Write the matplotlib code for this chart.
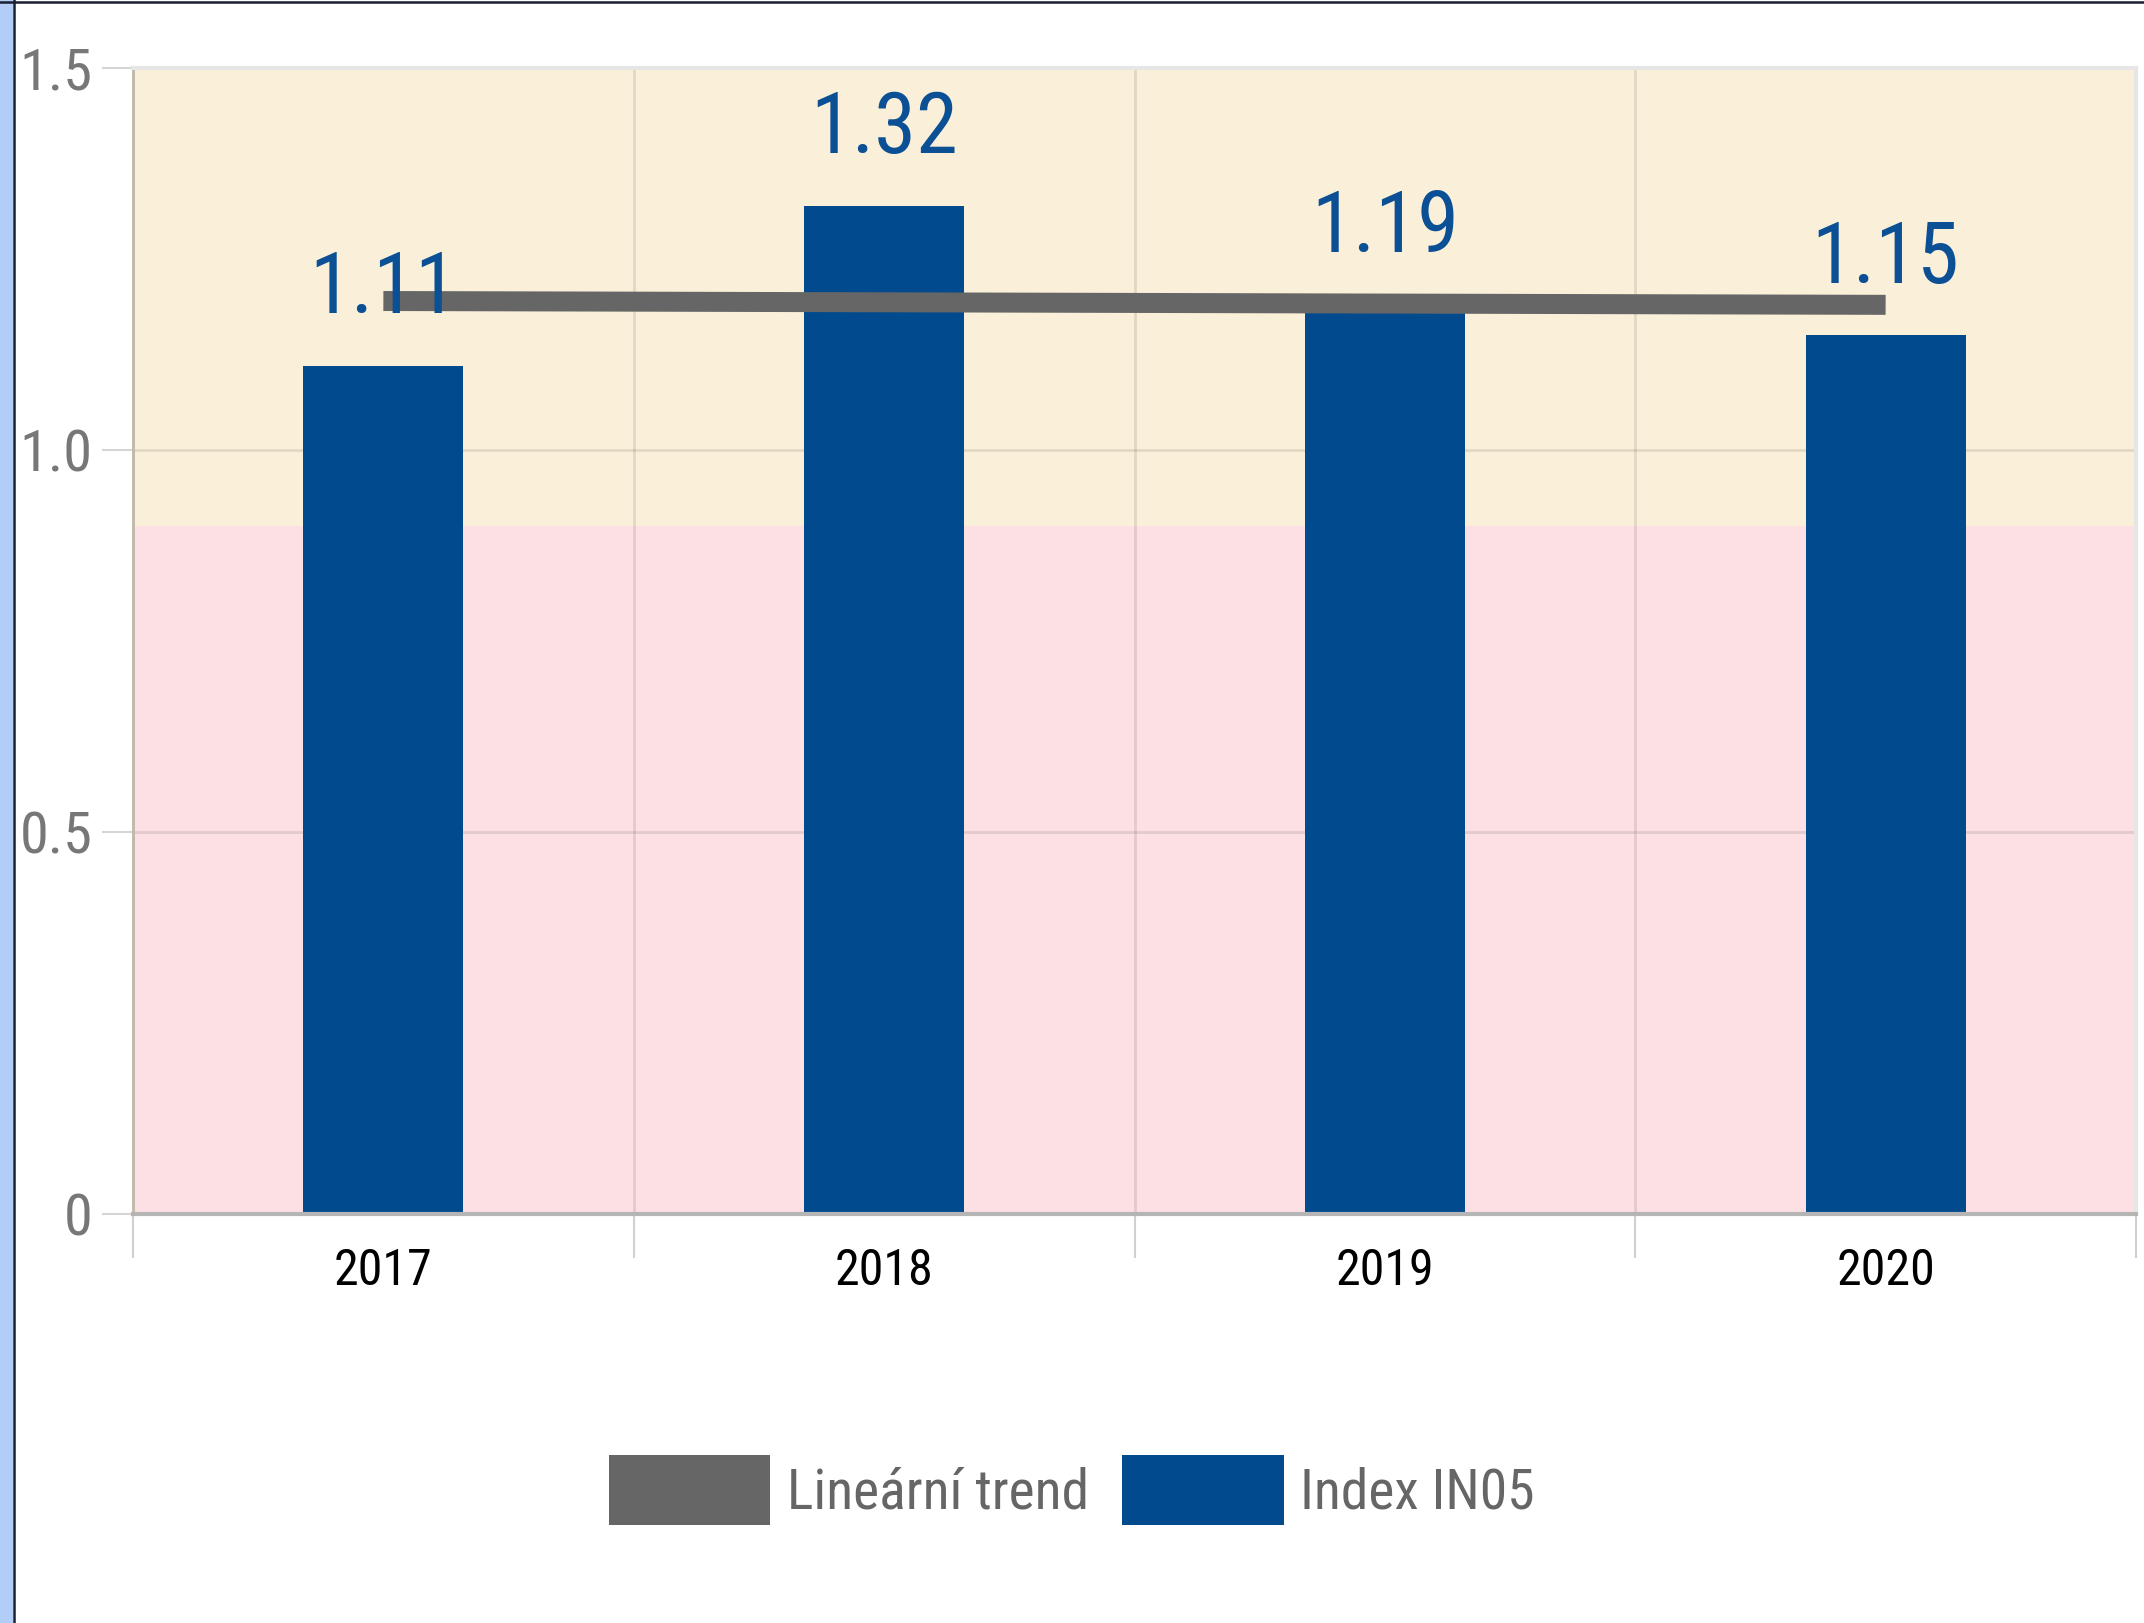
import matplotlib.pyplot as plt
from matplotlib.patches import Patch, Rectangle
from matplotlib.lines import Line2D
import numpy as np

# data
years = ['2017', '2018', '2019', '2020']
index_in05 = [1.11, 1.32, 1.19, 1.15]
trend_ends = [1.195, 1.19]          # linear trend at first and last year
zone_limit = 0.9                    # pink below, yellow above
y_ticks = [0, 0.5, 1.0, 1.5]
y_tick_labels = ['0', '0.5', '1.0', '1.5']

narrow = ['Roboto Condensed', 'Liberation Sans', 'DejaVu Sans']
bar_color = '#004a8d'
label_color = '#0b4f95'
trend_color = '#666666'

fig = plt.figure(figsize=(21.44, 16.23), dpi=100)
ax = fig.add_axes([133 / 2144, 409 / 1623, 2003 / 2144, 1146 / 1623])

# background zones
ax.axhspan(0, zone_limit, color='#fde0e4', zorder=0, lw=0)
ax.axhspan(zone_limit, 1.5, color='#faf0da', zorder=0, lw=0)

x = np.arange(len(years))
ax.bar(x, index_in05, width=0.32, color=bar_color, zorder=2)
ax.plot([x[0], x[-1]], trend_ends, color=trend_color, lw=14.4,
        solid_capstyle='butt', zorder=3)

for xi, v in zip(x, index_in05):
    ax.annotate('{:.2f}'.format(v), (xi, v), xytext=(0, 38), textcoords='offset points',
                ha='center', va='baseline', fontsize=61, color=label_color,
                family=narrow, zorder=4)

ax.set_xlim(-0.5, len(years) - 0.5)
ax.set_ylim(0, 1.5)

ax.set_yticks(y_ticks)
ax.set_yticklabels(y_tick_labels, family=narrow, fontsize=42, color='#777777')
ax.tick_params(axis='y', length=22, width=1.5, color='#d5d5d5', pad=7)

ax.set_xticks(x)
ax.set_xticklabels(years, family=narrow, fontsize=36, color='black')
ax.set_xticks(np.arange(len(years) + 1) - 0.5, minor=True)
ax.tick_params(axis='x', which='major', length=0, pad=24)
ax.tick_params(axis='x', which='minor', length=32, width=1.5, color='#d0d0d0')

ax.grid(axis='y', color='#8a8070', alpha=0.22, lw=2, zorder=1)
ax.grid(axis='x', which='minor', color='#8a8070', alpha=0.22, lw=2, zorder=1)
ax.set_axisbelow(True)

ax.spines['left'].set_color('#c0b8a8')
ax.spines['left'].set_linewidth(2)
ax.spines['bottom'].set_color('#b5b5b5')
ax.spines['bottom'].set_linewidth(3)
ax.spines['top'].set_color('#e6e6e6')
ax.spines['top'].set_linewidth(3)
ax.spines['right'].set_color('#e6e6e6')
ax.spines['right'].set_linewidth(3)

handles = [Patch(facecolor=trend_color, label='Lineární trend'),
           Patch(facecolor=bar_color, label='Index IN05')]
fig.legend(handles=handles, loc='center', bbox_to_anchor=(0.5, 133 / 1623), ncol=2,
           frameon=False, prop={'family': narrow, 'size': 40}, labelcolor='#666666',
           handlelength=2.9, handleheight=1.55, handletextpad=0.3, columnspacing=0.6)

# screenshot frame
fig.add_artist(Rectangle((0, 0), 13 / 2144, 1, transform=fig.transFigure,
                         color='#b3cdf9', lw=0))
fig.add_artist(Line2D([14.5 / 2144, 14.5 / 2144], [0, 1], transform=fig.transFigure,
                      color='#1a2030', lw=1.8))
fig.add_artist(Line2D([0, 1], [1 - 1.5 / 1623, 1 - 1.5 / 1623], transform=fig.transFigure,
                      color='#1a2030', lw=1.8))

plt.savefig('out.png', dpi=100)
